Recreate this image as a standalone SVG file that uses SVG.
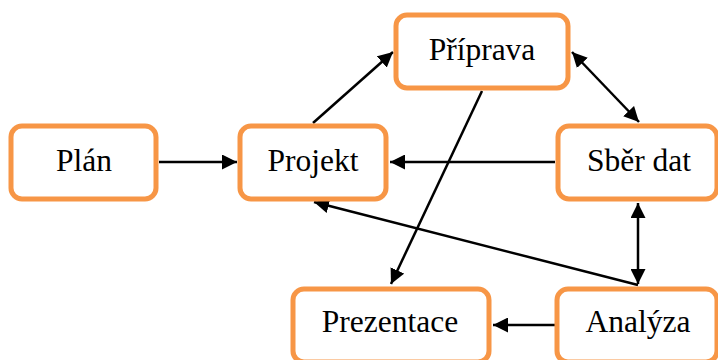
<svg xmlns="http://www.w3.org/2000/svg" width="718" height="360" viewBox="0 0 718 360">
  <style>
    .box { fill: #ffffff; stroke: #F79646; stroke-width: 5; }
    .label { font-family: "Liberation Serif", "Times New Roman", serif; font-size: 31.5px; fill: #000000; text-anchor: middle; }
    .edge { fill: none; stroke: #000000; stroke-width: 2.5; }
  </style>
  <defs>
    <marker id="arrow" viewBox="0 0 15 15" refX="15" refY="7.5" markerWidth="15" markerHeight="15" markerUnits="userSpaceOnUse" orient="auto-start-reverse">
      <path d="M0,0 L15,7.5 L0,15 z" fill="#000000"/>
    </marker>
  </defs>

  <!-- connectors -->
  <g id="connectors">
    <line class="edge" x1="159" y1="162" x2="237" y2="162" marker-end="url(#arrow)"/>
    <line class="edge" x1="313" y1="123" x2="393" y2="52" marker-end="url(#arrow)"/>
    <line class="edge" x1="572" y1="52" x2="639" y2="122" marker-start="url(#arrow)" marker-end="url(#arrow)"/>
    <line class="edge" x1="555" y1="162" x2="390" y2="162" marker-end="url(#arrow)"/>
    <line class="edge" x1="482" y1="91" x2="391" y2="284" marker-end="url(#arrow)"/>
    <line class="edge" x1="638" y1="203" x2="638" y2="284" marker-start="url(#arrow)" marker-end="url(#arrow)"/>
    <line class="edge" x1="638" y1="285" x2="314" y2="202" marker-end="url(#arrow)"/>
    <line class="edge" x1="555" y1="325" x2="493" y2="325" marker-end="url(#arrow)"/>
  </g>

  <!-- nodes -->
  <g id="plan">
    <rect class="box" x="11" y="126" width="145" height="73" rx="11"/>
    <text class="label" x="84" y="171">Plán</text>
  </g>
  <g id="projekt">
    <rect class="box" x="240" y="126" width="146" height="73" rx="11"/>
    <text class="label" x="313" y="171">Projekt</text>
  </g>
  <g id="priprava">
    <rect class="box" x="396" y="15" width="172" height="73" rx="11"/>
    <text class="label" x="482" y="60">Příprava</text>
  </g>
  <g id="sber-dat">
    <rect class="box" x="558" y="126" width="159" height="73" rx="11"/>
    <text class="label" x="639" y="171">Sběr dat</text>
  </g>
  <g id="prezentace">
    <rect class="box" x="293" y="289" width="196" height="73" rx="11"/>
    <text class="label" x="390" y="332">Prezentace</text>
  </g>
  <g id="analyza">
    <rect class="box" x="557" y="289" width="160" height="73" rx="11"/>
    <text class="label" x="638" y="332">Analýza</text>
  </g>
</svg>
